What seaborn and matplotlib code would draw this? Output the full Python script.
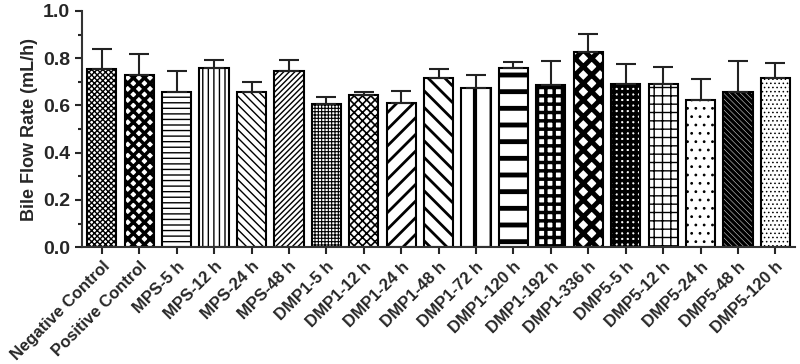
import numpy as np
import pandas as pd
import matplotlib
matplotlib.use("Agg")
import matplotlib.pyplot as plt
import seaborn as sns
from matplotlib.ticker import MultipleLocator

groups = ["Negative Control", "Positive Control", "MPS-5 h", "MPS-12 h", "MPS-24 h",
          "MPS-48 h", "DMP1-5 h", "DMP1-12 h", "DMP1-24 h", "DMP1-48 h", "DMP1-72 h",
          "DMP1-120 h", "DMP1-192 h", "DMP1-336 h", "DMP5-5 h", "DMP5-12 h",
          "DMP5-24 h", "DMP5-48 h", "DMP5-120 h"]
means = [0.755, 0.730, 0.657, 0.759, 0.658, 0.746, 0.608, 0.642, 0.611, 0.714,
         0.672, 0.758, 0.687, 0.825, 0.689, 0.689, 0.623, 0.658, 0.718]
sd = [0.083, 0.087, 0.088, 0.033, 0.041, 0.046, 0.026, 0.013, 0.048, 0.041,
      0.055, 0.027, 0.102, 0.076, 0.087, 0.073, 0.090, 0.131, 0.063]
yticks = [0.0, 0.2, 0.4, 0.6, 0.8, 1.0]

# hatch pattern per bar (closest matplotlib patterns) and hatch line width
hatches = ["xxxxxx", "xxx", "---", "|||", "\\\\\\\\", "//////", "+++++", "xxxx", "//",
           "\\\\", "|", "-", "++", "xx", "+++", "++", "..", "\\\\\\\\\\\\", "...."]
hatch_lw = [1.0, 2.5, 1.0, 1.0, 1.0, 1.0, 0.8, 1.2, 2.0, 2.0, 3.0, 3.5, 2.5, 3.5,
            2.5, 1.0, 0.8, 2.5, 0.6]

df = pd.DataFrame({"group": groups, "mean": means})

sns.set_style("ticks")
plt.rcParams["font.family"] = ["Liberation Sans", "DejaVu Sans"]
plt.rcParams["font.weight"] = "bold"

fig, ax = plt.subplots(figsize=(8, 3.64), dpi=100)
fig.subplots_adjust(left=0.1025, right=0.994, bottom=0.321, top=0.97)

sns.barplot(data=df, x="group", y="mean", color="white", edgecolor="black",
            linewidth=1.5, width=0.78, saturation=1, ax=ax)

for patch, h, lw in zip(ax.patches, hatches, hatch_lw):
    patch.set_hatch(h)
    patch.set_facecolor("white")
    if hasattr(patch, "set_hatch_linewidth"):
        patch.set_hatch_linewidth(lw)

x = np.arange(len(groups))
ax.errorbar(x, means, yerr=[np.zeros(len(sd)), sd], fmt="none", ecolor="#222222",
            elinewidth=1.5, capsize=7, capthick=1.5, zorder=1)

ax.set_ylim(0, 1.0)
ax.set_xlim(-0.53, len(groups) - 0.47)
ax.set_yticks(yticks)
ax.set_yticklabels([f"{v:.1f}" for v in yticks], fontsize=14, fontweight="bold")
ax.yaxis.set_minor_locator(MultipleLocator(0.1))
ax.set_xticks(x)
ax.set_xticklabels(groups, rotation=45, ha="right", rotation_mode="anchor",
                   fontsize=12, fontweight="bold")
ax.tick_params(axis="both", which="major", length=5, width=1.5, direction="out")
ax.tick_params(axis="y", which="minor", length=3, width=1.5)
ax.set_xlabel("")
ax.set_ylabel("Bile Flow Rate (mL/h)", fontsize=13, fontweight="bold", labelpad=4)

for s in ["top", "right"]:
    ax.spines[s].set_visible(False)
for s in ["left", "bottom"]:
    ax.spines[s].set_linewidth(1.5)
    ax.spines[s].set_color("#333333")

fig.savefig("out.png", dpi=100)
